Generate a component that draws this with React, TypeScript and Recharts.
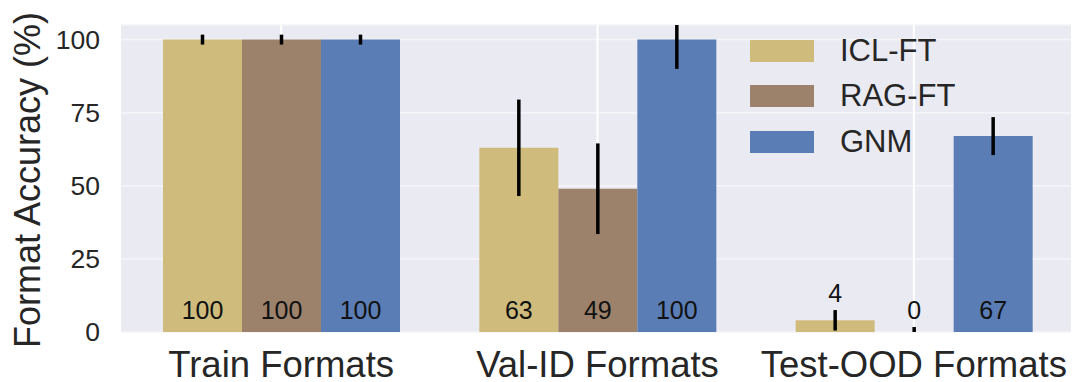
import React from 'react'
import { BarChart, Bar, XAxis, YAxis, CartesianGrid, Legend, ErrorBar, LabelList } from 'recharts'

const categories = ['Train Formats', 'Val-ID Formats', 'Test-OOD Formats']
const iclFt = [100, 63, 4]
const ragFt = [100, 49, 0]
const gnm = [100, 100, 67]
// error bars as [below, above]; the GNM Val-ID bar is cut at the top of the axes
const iclErr = [[1.7, 1.7], [16.5, 16.5], [3.5, 3.5]]
const ragErr = [[1.7, 1.7], [15.5, 15.5], [0, 1.7]]
const gnmErr = [[1.7, 1.7], [10, 5], [6.5, 6.5]]
const yTicks = [0, 25, 50, 75, 100]

const series = [
  { key: 'icl', name: 'ICL-FT', color: '#CFBC7D', values: iclFt, errs: iclErr },
  { key: 'rag', name: 'RAG-FT', color: '#9C826B', values: ragFt, errs: ragErr },
  { key: 'gnm', name: 'GNM', color: '#5A7DB5', values: gnm, errs: gnmErr },
]

const data = categories.map((c, i) => {
  const row: any = { name: c }
  series.forEach(s => {
    row[s.key] = s.values[i]
    row[s.key + 'Err'] = s.errs[i]
    row[s.key + 'Lbl'] = String(s.values[i])
  })
  return row
})

const W = 1072
const H = 382
const TOP = 25
const BOTTOM = 50
const YMAX = 105
const ppu = (H - TOP - BOTTOM) / YMAX

const makeLabel = (errs: number[][]) => (props: any) => {
  const { x, y, width, height, value, index } = props
  const bottom = Number(y) + Number(height)
  const v = Number(value)
  const off = v < 10 ? v + errs[index][1] + 5.8 : 7.6
  return (
    <text x={Number(x) + Number(width) / 2} y={bottom - off * ppu} textAnchor="middle"
      dominantBaseline="central" fontSize={25} fill="#111">
      {value}
    </text>
  )
}

const renderLegend = () => (
  <div>
    {series.map(s => (
      <div key={s.key} style={{ display: 'flex', alignItems: 'center', height: 45.5 }}>
        <div style={{ width: 64, height: 22, background: s.color }} />
        <span style={{ marginLeft: 26, fontSize: 31, color: '#262626' }}>{s.name}</span>
      </div>
    ))}
  </div>
)

const App = () => {
  return (
    <div style={{ position: 'absolute', left: 0, top: 0, fontFamily: '"Liberation Sans", Arial, sans-serif' }}>
      <BarChart width={W} height={H} data={data} barGap={0} barSize={79}
        margin={{ top: TOP, right: 0, bottom: 0, left: 0 }}>
        <CartesianGrid vertical={false} fill="#EAEAF2" stroke="#F5F5F9" strokeWidth={1.5} />
        <CartesianGrid horizontal={false} stroke="#FFFFFF" strokeWidth={2} />
        <XAxis dataKey="name" height={BOTTOM} tickLine={false} axisLine={false} tickSize={0} tickMargin={19}
          padding={{ left: 3, right: 0 }} tick={{ fontSize: 36.5, fill: '#262626' }} interval={0} />
        <YAxis width={120} domain={[0, YMAX]} ticks={yTicks} allowDataOverflow tickLine={false} axisLine={false}
          tickSize={0} tickMargin={20} tick={{ fontSize: 26.5, fill: '#262626' }}
          label={{
            content: () => (
              <text x={40} y={180} transform="rotate(-90, 40, 180)" textAnchor="middle"
                fontSize={36} fill="#262626">Format Accuracy (%)</text>
            ),
          }} />
        <Legend content={renderLegend} layout="vertical" verticalAlign="middle" align="center"
          wrapperStyle={{ left: 750, top: 28, width: 250 }} />
        {series.map(s => (
          <Bar key={s.key} dataKey={s.key} name={s.name} fill={s.color} minPointSize={0.01} isAnimationActive={false}>
            <ErrorBar dataKey={s.key + 'Err'} width={0} stroke="#000" strokeWidth={3.5} />
            <LabelList dataKey={s.key + 'Lbl'} content={makeLabel(s.errs)} />
          </Bar>
        ))}
      </BarChart>
    </div>
  )
}

export default App
